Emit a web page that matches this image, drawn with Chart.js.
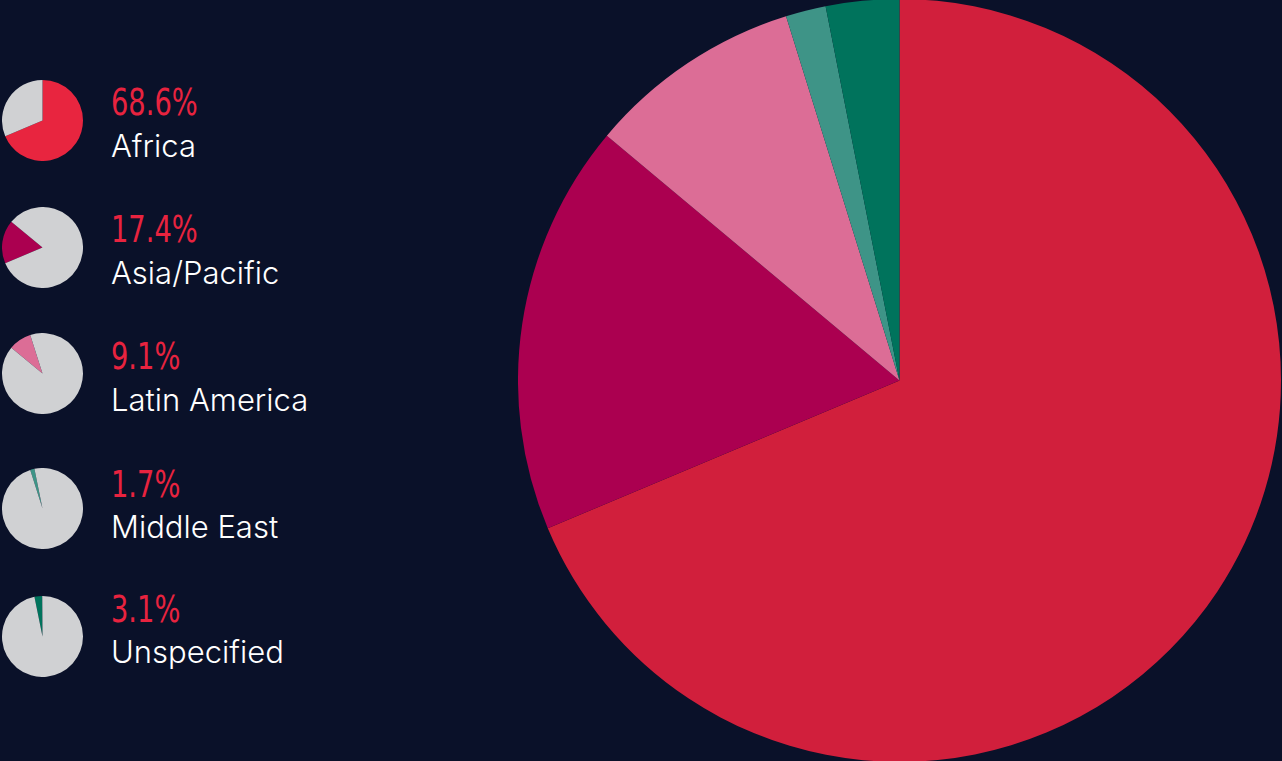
<!DOCTYPE html>
<html>
<head>
<meta charset="utf-8">
<script src="https://cdn.jsdelivr.net/npm/chart.js@4"></script>
<style>
    html, body { margin: 0; padding: 0; }
    body { width: 1282px; height: 761px; background: #0a1129; overflow: hidden; position: relative; }
    #mainpie { position: absolute; left: 518px; top: -1px; }
    .mini { position: absolute; left: 2px; }
    .pct, .name { position: absolute; left: 111px; white-space: nowrap; }
    .pct { font-family: "Liberation Sans Narrow", "DejaVu Sans Condensed", sans-serif; font-size: 37px; line-height: 37px; color: #e8233f; transform: scaleX(0.82); transform-origin: left top; }
    .name { font-family: Inter, Roboto, sans-serif; font-weight: 300; font-size: 31px; line-height: 31px; color: #ffffff; }
</style>
</head>
<body>
<canvas id="mainpie" width="763" height="763"></canvas>
<div id="legend"></div>

<script>
"use strict";

/* data */
var regions = ['Africa', 'Asia/Pacific', 'Latin America', 'Middle East', 'Unspecified'];
var shares = [68.6, 17.4, 9.1, 1.7, 3.1];
var shareLabels = ['68.6%', '17.4%', '9.1%', '1.7%', '3.1%'];
var mainColors = ['#d11f3c', '#ab0050', '#dc6d96', '#3e9487', '#00735c'];
var miniColors = ['#e8253f', '#ab0050', '#dc6d96', '#3e9487', '#00735c'];
var grey = '#d0d1d3';

/* row positions of the left legend (pie centre, text baselines) */
var miniCentres = [120, 247, 373, 508, 636];
var pctBaselines = [115, 242, 369, 497, 622];
var nameBaselines = [156, 283, 410, 537, 662];

Chart.defaults.animation = false;

/* big pie */
new Chart(document.getElementById('mainpie').getContext('2d'), {
    type: 'pie',
    data: {
        labels: regions,
        datasets: [{
            data: shares,
            backgroundColor: mainColors,
            borderWidth: 0,
        }]
    },
    options: {
        responsive: false,
        events: [],
        layout: { padding: 0 },
        plugins: {
            legend: { display: false },
            tooltip: { enabled: false },
        }
    }
});

/* small pies + texts */
var legend = document.getElementById('legend');
var offset = 0;
regions.forEach(function (name, i) {
    var cv = document.createElement('canvas');
    cv.className = 'mini';
    cv.width = 81;
    cv.height = 81;
    cv.style.top = (miniCentres[i] - 40.5) + 'px';
    legend.appendChild(cv);

    // the coloured slice sits where it sits in the big pie
    new Chart(cv.getContext('2d'), {
        type: 'pie',
        data: {
            labels: [name, ''],
            datasets: [{
                data: [shares[i], 100 - shares[i]],
                backgroundColor: [miniColors[i], grey],
                borderWidth: 0,
            }]
        },
        options: {
            responsive: false,
            events: [],
            rotation: offset * 3.6,
            plugins: {
                legend: { display: false },
                tooltip: { enabled: false },
            }
        }
    });
    offset += shares[i];

    var p = document.createElement('div');
    p.className = 'pct';
    p.textContent = shareLabels[i];
    p.style.top = (pctBaselines[i] - 31) + 'px';
    legend.appendChild(p);

    var n = document.createElement('div');
    n.className = 'name';
    n.textContent = name;
    n.style.top = (nameBaselines[i] - 26) + 'px';
    legend.appendChild(n);
});
</script>
</body>
</html>
